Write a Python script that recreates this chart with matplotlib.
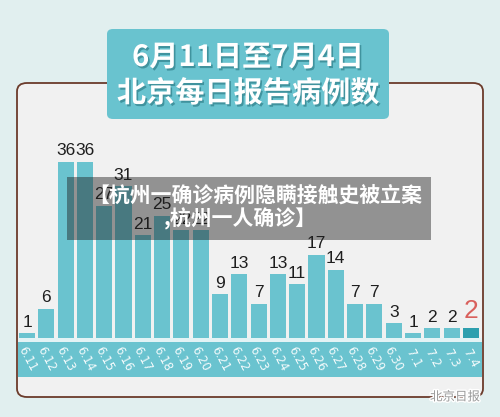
import matplotlib
matplotlib.use("Agg")
import matplotlib.pyplot as plt
from matplotlib.patches import FancyBboxPatch, Rectangle
import matplotlib.patheffects as pe

dates = ["6.11", "6.12", "6.13", "6.14", "6.15", "6.16", "6.17", "6.18", "6.19", "6.20",
         "6.21", "6.22", "6.23", "6.24", "6.25", "6.26", "6.27", "6.28", "6.29", "6.30",
         "7.1", "7.2", "7.3", "7.4"]
cases = [1, 6, 36, 36, 27, 31, 21, 25, 22, 22, 9, 13, 7, 13, 11, 17, 14, 7, 7, 3, 1, 2, 2, 2]
title_line1 = "6月11日至7月4日"
title_line2 = "北京每日报告病例数"
banner_line1 = "【杭州一确诊病例隐瞒接触史被立案"
banner_line2 = ",杭州一人确诊】"
watermark = "北京日报"

W, H = 500, 417
fig = plt.figure(figsize=(W / 100, H / 100), dpi=100)
fig.patch.set_facecolor("#e1efef")

def fx(px):
    return px / W

def fy(py):
    return 1 - py / H

CJK = ["Noto Sans CJK SC", "DejaVu Sans"]
TEAL = "#6ac3cf"

# panel
panel = FancyBboxPatch((fx(17), fy(397)), fx(483) - fx(17), fy(83) - fy(397),
                       boxstyle="round,pad=0,rounding_size=0.02",
                       transform=fig.transFigure, facecolor="#f1f1f1",
                       edgecolor="#6b3b2b", linewidth=1.3, zorder=0)
fig.patches.append(panel)

# bottom band
fig.patches.append(Rectangle((fx(18), fy(342)), fx(482) - fx(18), fy(338) - fy(342),
                             transform=fig.transFigure, facecolor="#e3f3f5",
                             edgecolor="none", zorder=1))
fig.patches.append(Rectangle((fx(18), fy(377)), fx(482) - fx(18), fy(342) - fy(377),
                             transform=fig.transFigure, facecolor=TEAL,
                             edgecolor="none", zorder=1))

# bar axes
ax_left, ax_right = 17, 481
ax_bottom, ax_top = 338, 83
ax = fig.add_axes([fx(ax_left), fy(ax_bottom), fx(ax_right) - fx(ax_left), fy(ax_top) - fy(ax_bottom)])
ax.set_zorder(3)
ax.set_facecolor("none")
pitch = 19.3
c0 = 27
ax.set_xlim((ax_left - c0) / pitch, (ax_right - c0) / pitch)
ax.set_ylim(0, (ax_bottom - ax_top) / 4.89)
for s in ax.spines.values():
    s.set_visible(False)
ax.set_xticks([])
ax.set_yticks([])

x = list(range(len(cases)))
colors = [TEAL] * (len(cases) - 1) + ["#2e9fae"]
ax.bar(x, cases, width=0.83, color=colors, zorder=2)
for i, v in enumerate(cases):
    last = i == len(cases) - 1
    ax.annotate(str(v), (i, v), xytext=(0, 4 if last else 2.5), textcoords="offset points",
                ha="center", va="bottom",
                fontsize=19 if last else 12.5,
                color="#d9605c" if last else "#1e1e1e",
                family="Liberation Sans", zorder=3)

# date labels
for i, d in enumerate(dates):
    xpx = c0 + pitch * i
    fig.text(fx(xpx), fy(359), d, rotation=-62, ha="center", va="center",
             fontsize=8.5, color="#f4fbfc", family="DejaVu Sans", zorder=4)

# title box
tb = FancyBboxPatch((fx(107), fy(119)), fx(389) - fx(107), fy(29) - fy(119),
                    boxstyle="round,pad=0,rounding_size=0.012",
                    transform=fig.transFigure, facecolor="#69c3cf",
                    edgecolor="none", zorder=5)
fig.patches.append(tb)
shadow = [pe.withSimplePatchShadow(offset=(1.2, -1.5), shadow_rgbFace="#2f7f8a", alpha=0.7)]
fig.text(fx(248), fy(57), title_line1, ha="center", va="center", fontsize=21,
         color="white", family=CJK, weight="bold", path_effects=shadow, zorder=6)
fig.text(fx(248), fy(93), title_line2, ha="center", va="center", fontsize=21,
         color="white", family=CJK, weight="bold", path_effects=shadow, zorder=6)

# overlay banner
fig.text(fx(255), fy(195), banner_line1, ha="center", va="center", fontsize=15,
         color="white", weight="bold", family=CJK, zorder=9)
fig.text(fx(240), fy(219), banner_line2, ha="center", va="center", fontsize=15,
         color="white", weight="bold", family=CJK, zorder=9)
banner_ax = fig.add_axes([fx(67), fy(240), fx(431) - fx(67), fy(177) - fy(240)])
banner_ax.set_zorder(8)
banner_ax.axis("off")
banner_ax.add_patch(Rectangle((0, 0), 1, 1, transform=banner_ax.transAxes,
                              facecolor="#202020", alpha=0.45, edgecolor="none"))

# watermark
fig.text(fx(455), fy(397), watermark, ha="center", va="center", fontsize=9,
         color="#9a9a9a", family=CJK, zorder=8,
         path_effects=[pe.withStroke(linewidth=2, foreground="white")])

fig.savefig("out.png", dpi=100, facecolor=fig.get_facecolor())
